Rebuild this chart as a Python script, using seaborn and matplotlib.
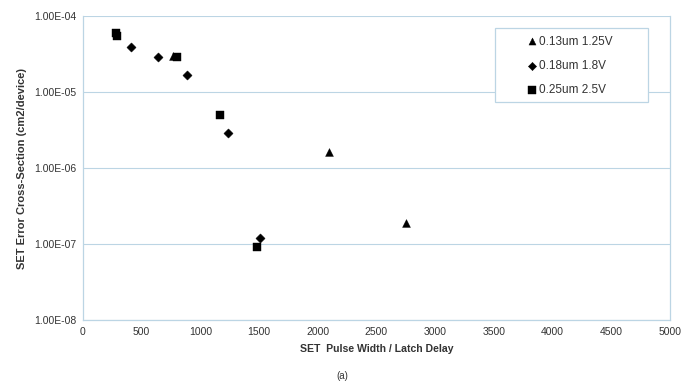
import matplotlib
matplotlib.use("Agg")
import matplotlib.pyplot as plt
import matplotlib.ticker as mticker
from matplotlib.patches import Rectangle
import seaborn as sns
import pandas as pd

# Data
x_013 = [767, 2097, 2753]
y_013 = [2.98e-5, 1.64e-6, 1.87e-7]
x_018 = [407, 642, 889, 1237, 1511]
y_018 = [3.95e-5, 2.9e-5, 1.69e-5, 2.86e-6, 1.21e-7]
x_025 = [285, 290, 800, 1163, 1480]
y_025 = [6.0e-5, 5.4e-5, 2.86e-5, 4.97e-6, 9.2e-8]
series = ["0.13um 1.25V", "0.18um 1.8V", "0.25um 2.5V"]
x_ticks = [0, 500, 1000, 1500, 2000, 2500, 3000, 3500, 4000, 4500, 5000]
y_ticks = [1e-8, 1e-7, 1e-6, 1e-5, 1e-4]

df = pd.concat([
    pd.DataFrame({"x": x_013, "y": y_013, "s": series[0]}),
    pd.DataFrame({"x": x_018, "y": y_018, "s": series[1]}),
    pd.DataFrame({"x": x_025, "y": y_025, "s": series[2]}),
], ignore_index=True)

sns.set_theme(style="white")
plt.rcParams['font.family'] = ['Liberation Sans', 'DejaVu Sans']

fig = plt.figure(figsize=(6.84, 3.83), dpi=100)
ax = fig.add_axes([0.1213, 0.1645, 0.8582, 0.7935])

edge = "#bcd5e4"
txt = "#333333"

ax.set_yscale("log")
markers = {series[0]: "^", series[1]: "D", series[2]: "s"}
sizes = {series[0]: 32, series[1]: 22, series[2]: 32}
for s in series:
    sub = df[df["s"] == s]
    sns.scatterplot(data=sub, x="x", y="y", marker=markers[s], color="black",
                    s=sizes[s], edgecolor="black", linewidth=0.3, ax=ax,
                    label=s, zorder=3)

ax.set_xlim(0, 5000)
ax.set_ylim(1e-8, 1e-4)
ax.set_xticks(x_ticks)
ax.xaxis.set_major_formatter(mticker.FuncFormatter(lambda v, p: f"{int(v)}"))
ax.set_yticks(y_ticks)
ax.yaxis.set_major_formatter(mticker.FuncFormatter(lambda v, p: f"{v:.2E}"))
ax.yaxis.set_minor_locator(mticker.NullLocator())
ax.grid(axis="y", color=edge, linewidth=0.8)
ax.grid(axis="x", visible=False)
for sp in ax.spines.values():
    sp.set_color(edge)
    sp.set_linewidth(0.9)
ax.spines["top"].set_visible(False)
ax.tick_params(axis="both", labelsize=7.5, colors=txt, length=0, pad=5)

ax.set_xlabel("SET  Pulse Width / Latch Delay", fontsize=7.6, fontweight="bold",
              color=txt, labelpad=5)
ax.set_ylabel("SET Error Cross-Section (cm2/device)", fontsize=8,
              fontweight="bold", color=txt, labelpad=5)

# legend box
ax.add_patch(Rectangle((0.702, 0.717), 0.2605, 0.2435, transform=ax.transAxes,
                       facecolor="white", edgecolor=edge, linewidth=0.9,
                       zorder=4))
leg = ax.legend(loc="upper left", bbox_to_anchor=(0.757, 0.936), fontsize=8.5,
                frameon=False, markerscale=0.9,
                handletextpad=0.15, handlelength=0.8, labelspacing=1.05,
                borderpad=0, borderaxespad=0)
leg.set_zorder(5)
for t in leg.get_texts():
    t.set_color(txt)

fig.text(0.5, 0.018, "(a)", ha="center", va="center", fontsize=7, color=txt)

fig.savefig("out.png", dpi=100)
